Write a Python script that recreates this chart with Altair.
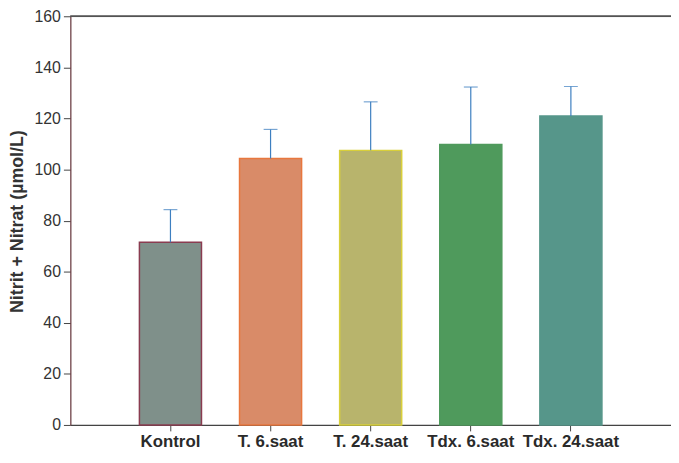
import altair as alt
import pandas as pd

categories = ["Kontrol", "T. 6.saat", "T. 24.saat", "Tdx. 6.saat", "Tdx. 24.saat"]
means = [71.5, 104.3, 107.5, 109.8, 121.0]
errors = [12.8, 11.4, 19.0, 22.5, 11.5]
fill_colors = ["#7f908a", "#d98b68", "#b8b46c", "#4f9a5c", "#56968a"]
edge_colors = ["#8a3c50", "#e8773e", "#d8cf3a", "#4f9a5c", "#56968a"]

df = pd.DataFrame({
    "cat": categories,
    "mean": means,
    "top": [m + e for m, e in zip(means, errors)],
})

x_enc = alt.X(
    "cat:N",
    sort=categories,
    title=None,
    scale=alt.Scale(paddingInner=0.38, paddingOuter=0.69),
    axis=alt.Axis(
        labelAngle=0, labelFont="Liberation Sans", labelFontSize=17,
        labelFontWeight="bold", labelColor="#2a2a2a", labelPadding=3,
        tickSize=6, tickColor="#444", domainColor="#444", domainWidth=1.2,
        grid=False,
    ),
)
y_scale = alt.Scale(domain=[0, 160], nice=False)

bars = alt.Chart(df).mark_bar(strokeWidth=1.5).encode(
    x=x_enc,
    y=alt.Y(
        "mean:Q", scale=y_scale,
        title="Nitrit + Nitrat (µmol/L)",
        axis=alt.Axis(
            values=[0, 20, 40, 60, 80, 100, 120, 140, 160],
            labelFont="Liberation Sans", labelFontSize=16, labelColor="#333",
            labelPadding=3, tickSize=7, tickColor="#444",
            domainColor="#6a3a40", domainWidth=1.2, grid=False,
            titleFont="Liberation Sans", titleFontSize=18, titleFontWeight="bold",
            titleColor="#333", titlePadding=8, titleY=207,
        ),
    ),
    fill=alt.Fill("cat:N", scale=alt.Scale(domain=categories, range=fill_colors), legend=None),
    stroke=alt.Stroke("cat:N", scale=alt.Scale(domain=categories, range=edge_colors), legend=None),
)

err = alt.Chart(df).mark_rule(color="#3d7fc0", strokeWidth=1.2).encode(
    x=alt.X("cat:N", sort=categories),
    y=alt.Y("mean:Q", scale=y_scale),
    y2="top:Q",
)

caps = alt.Chart(df).mark_tick(color="#3d7fc0", size=14, thickness=1.2).encode(
    x=alt.X("cat:N", sort=categories),
    y=alt.Y("top:Q", scale=y_scale),
)

top_line = alt.Chart(df).mark_rule(color="#555", strokeWidth=1.2).encode(
    y=alt.datum(160),
)

chart = alt.layer(bars, err, caps, top_line).properties(
    width=607, height=413,
    autosize=alt.AutoSizeParams(type="none"),
    padding={"left": 63, "top": 6, "right": 0, "bottom": 28},
).configure_view(stroke=None).configure(background="white")

chart.save("out.html", embed_options={"renderer": "svg", "actions": False})
